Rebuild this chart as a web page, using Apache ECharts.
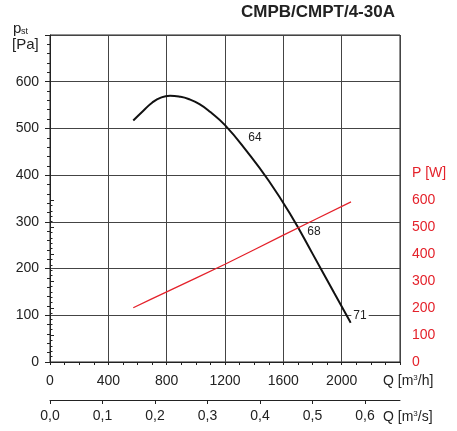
<!DOCTYPE html>
<html>
<head>
<meta charset="utf-8">
<script src="https://cdn.jsdelivr.net/npm/echarts@6/dist/echarts.min.js"></script>
<style>
  html, body { margin: 0; padding: 0; background: #fff; }
  #chart { width: 457px; height: 431px; }
</style>
</head>
<body>
<div id="chart"></div>
<script>
// pressure curve (black), Q in m3/h, p in Pa
var flowP = [571, 640, 700, 760, 823, 890, 950, 1025, 1100, 1200, 1350, 1500, 1650, 1800, 1950, 2062];
var pressure = [517, 538, 555, 566, 570, 568, 563, 552, 535, 507, 451, 388, 315, 232, 147, 84];

// power curve (red), Q in m3/h, P in W
var flowW = [571, 800, 1200, 1600, 2064];
var power = [201, 260, 362, 470, 593];

// curve labels: Q, p, text
var curveLabels = [[1406, 480, '64'], [1810, 279, '68'], [2126, 99, '71']];

var qTicks = [0, 400, 800, 1200, 1600, 2000];
var qsTicks = [0, 0.1, 0.2, 0.3, 0.4, 0.5, 0.6];
var pTicks = [0, 100, 200, 300, 400, 500, 600];
var wTicks = [0, 100, 200, 300, 400, 500, 600];

var FONT = 'Liberation Sans';
var TXT = '#222';
var RED = '#e4222b';

function pairs(xs, ys) {
  return xs.map(function (x, i) { return [x, ys[i]]; });
}

function plain(v) { return String(v); }

var chart = echarts.init(document.getElementById('chart'));

chart.setOption({
  animation: false,
  textStyle: { fontFamily: FONT },
  grid: [
    { left: 50, right: 57, top: 35, bottom: 69, show: true, borderColor: '#222', borderWidth: 1 },
    { left: 50, right: 57, top: 200, bottom: 69 }
  ],
  xAxis: [{
    gridIndex: 0, type: 'value', min: 0, max: 2400, interval: 400,
    axisLine: { lineStyle: { color: '#222' } },
    axisTick: { length: 3, lineStyle: { color: '#222' } },
    minorTick: { show: true, splitNumber: 4, length: 3, lineStyle: { color: '#222' } },
    axisLabel: { customValues: qTicks, fontSize: 14, color: TXT, margin: 12, fontFamily: FONT, formatter: plain },
    splitLine: { show: true, lineStyle: { color: '#444' } }
  }, {
    gridIndex: 0, type: 'value', position: 'bottom', offset: 38,
    min: 0, max: 2400 / 3600, interval: 0.1,
    axisLine: { lineStyle: { color: '#222' } },
    axisTick: { customValues: qsTicks, length: 4, lineStyle: { color: '#222' } },
    axisLabel: {
      customValues: qsTicks, fontSize: 14, color: TXT, margin: 9, fontFamily: FONT,
      formatter: function (v) { return v.toFixed(1).replace('.', ','); }
    },
    splitLine: { show: false }
  }, {
    gridIndex: 1, type: 'value', min: 0, max: 2400, show: false
  }],
  yAxis: [{
    gridIndex: 0, type: 'value', min: 0, max: 700, interval: 100,
    axisLine: { show: true, lineStyle: { color: '#222' } },
    axisTick: { show: true, length: 5, lineStyle: { color: '#222' } },
    minorTick: { show: true, splitNumber: 5, length: 3, lineStyle: { color: '#222' } },
    axisLabel: { customValues: pTicks, fontSize: 14, color: TXT, margin: 11, fontFamily: FONT, formatter: plain },
    splitLine: { show: true, lineStyle: { color: '#444' } }
  }, {
    gridIndex: 1, type: 'value', position: 'right', min: 0, max: 600, interval: 100,
    axisLine: { show: true, lineStyle: { color: '#222' } },
    axisTick: { show: true, length: 4, lineStyle: { color: '#222' } },
    minorTick: { show: true, splitNumber: 5, length: 2.5, lineStyle: { color: '#222' } },
    axisLabel: { customValues: wTicks, fontSize: 14, color: RED, margin: 12, fontFamily: FONT, formatter: plain },
    splitLine: { show: false }
  }],
  graphic: [
    { type: 'text', left: 241, top: 4, style: { text: 'CMPB/CMPT/4-30A', font: 'bold 17px "Liberation Sans"', fill: TXT } },
    { type: 'text', left: 13, top: 21, style: { text: 'p', font: '15px "Liberation Sans"', fill: TXT } },
    { type: 'text', left: 21, top: 27, style: { text: 'st', font: '9px "Liberation Sans"', fill: TXT } },
    { type: 'text', left: 12, top: 37, style: { text: '[Pa]', font: '15px "Liberation Sans"', fill: TXT } },
    { type: 'text', left: 412, top: 166, style: { text: 'P [W]', font: '14px "Liberation Sans"', fill: RED } },
    {
      type: 'text', left: 383, top: 374,
      style: { rich: { a: { fontSize: 14, fontFamily: FONT, fill: TXT }, s: { fontSize: 8, fontFamily: FONT, fill: TXT, verticalAlign: 'top', padding: [0, 0, 6, 0] } },
        text: '{a|Q [m}{s|3}{a|/h]}' }
    },
    {
      type: 'text', left: 383, top: 410,
      style: { rich: { a: { fontSize: 14, fontFamily: FONT, fill: TXT }, s: { fontSize: 8, fontFamily: FONT, fill: TXT, verticalAlign: 'top', padding: [0, 0, 6, 0] } },
        text: '{a|Q [m}{s|3}{a|/s]}' }
    }
  ],
  series: [{
    type: 'line', xAxisIndex: 0, yAxisIndex: 0,
    data: pairs(flowP, pressure),
    smooth: 0.5, symbol: 'none',
    lineStyle: { color: '#111', width: 2 },
    markPoint: {
      symbol: 'circle', symbolSize: 0, silent: true,
      label: { show: true, color: TXT, fontSize: 12, fontFamily: FONT, backgroundColor: '#fff', padding: [0, 2] },
      data: curveLabels.map(function (c) {
        return { coord: [c[0], c[1]], value: c[2], label: { formatter: c[2] } };
      })
    }
  }, {
    type: 'line', xAxisIndex: 2, yAxisIndex: 1,
    data: pairs(flowW, power),
    smooth: 0.2, symbol: 'none',
    lineStyle: { color: RED, width: 1.3 }
  }]
});
</script>
</body>
</html>
